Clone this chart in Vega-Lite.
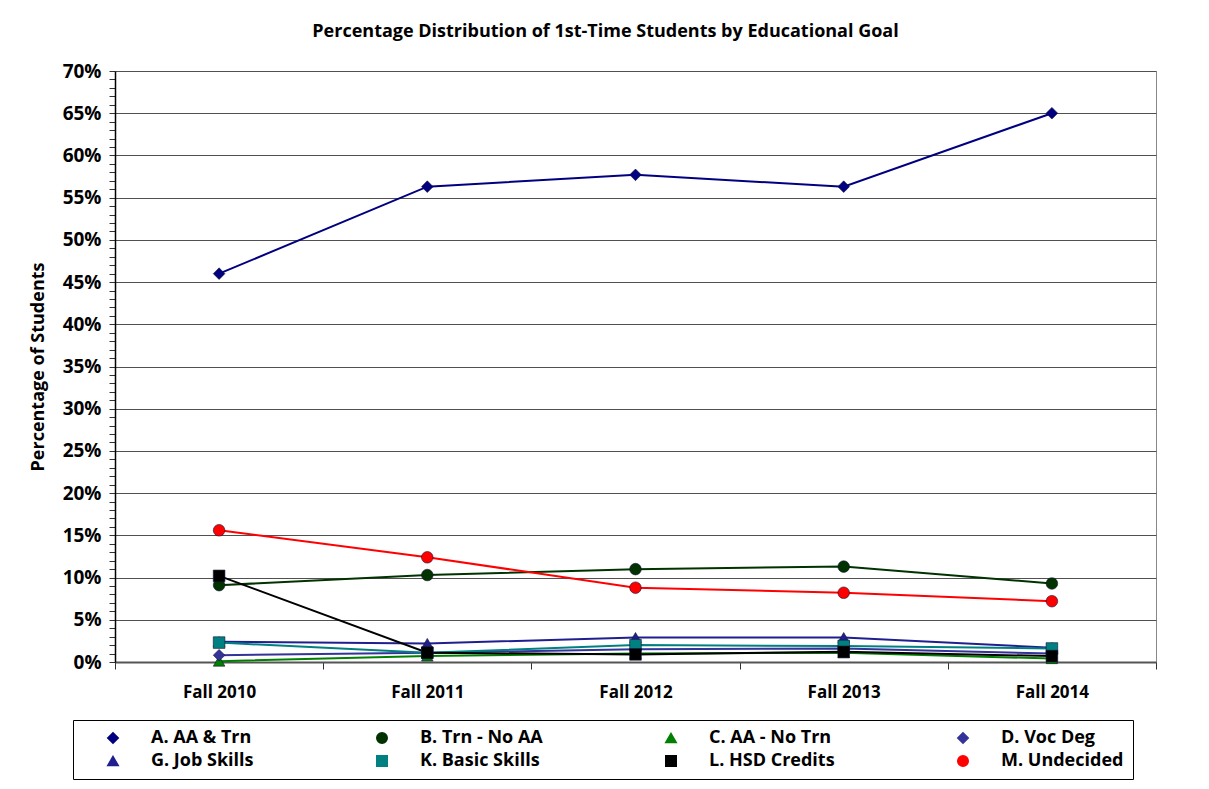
{
  "$schema": "https://vega.github.io/schema/vega-lite/v6.json",
  "autosize": {"type": "none"},
  "width": 1041,
  "height": 591,
  "padding": {"left": 115, "top": 71, "right": 53, "bottom": 127},
  "background": "white",
  "title": {
    "text": "Percentage Distribution of 1st-Time Students by Educational Goal",
    "font": "Open Sans",
    "fontSize": 18,
    "fontWeight": "bold",
    "color": "black",
    "anchor": "middle",
    "dx": -30,
    "offset": 21
  },
  "config": {
    "view": {"stroke": "#888888", "strokeWidth": 1},
    "font": "Open Sans"
  },
  "data": {
    "values": [
      {"year": "Fall 2010", "goal": "A. AA & Trn", "pct": 46.0},
      {"year": "Fall 2011", "goal": "A. AA & Trn", "pct": 56.3},
      {"year": "Fall 2012", "goal": "A. AA & Trn", "pct": 57.7},
      {"year": "Fall 2013", "goal": "A. AA & Trn", "pct": 56.3},
      {"year": "Fall 2014", "goal": "A. AA & Trn", "pct": 65.0},
      {"year": "Fall 2010", "goal": "B. Trn - No AA", "pct": 9.1},
      {"year": "Fall 2011", "goal": "B. Trn - No AA", "pct": 10.3},
      {"year": "Fall 2012", "goal": "B. Trn - No AA", "pct": 11.0},
      {"year": "Fall 2013", "goal": "B. Trn - No AA", "pct": 11.3},
      {"year": "Fall 2014", "goal": "B. Trn - No AA", "pct": 9.3},
      {"year": "Fall 2010", "goal": "C. AA - No Trn", "pct": 0.1},
      {"year": "Fall 2011", "goal": "C. AA - No Trn", "pct": 0.7},
      {"year": "Fall 2012", "goal": "C. AA - No Trn", "pct": 1.0},
      {"year": "Fall 2013", "goal": "C. AA - No Trn", "pct": 1.1},
      {"year": "Fall 2014", "goal": "C. AA - No Trn", "pct": 0.4},
      {"year": "Fall 2010", "goal": "D. Voc Deg", "pct": 0.8},
      {"year": "Fall 2011", "goal": "D. Voc Deg", "pct": 1.1},
      {"year": "Fall 2012", "goal": "D. Voc Deg", "pct": 1.5},
      {"year": "Fall 2013", "goal": "D. Voc Deg", "pct": 1.6},
      {"year": "Fall 2014", "goal": "D. Voc Deg", "pct": 1.0},
      {"year": "Fall 2010", "goal": "G. Job Skills", "pct": 2.4},
      {"year": "Fall 2011", "goal": "G. Job Skills", "pct": 2.2},
      {"year": "Fall 2012", "goal": "G. Job Skills", "pct": 2.9},
      {"year": "Fall 2013", "goal": "G. Job Skills", "pct": 2.9},
      {"year": "Fall 2014", "goal": "G. Job Skills", "pct": 1.7},
      {"year": "Fall 2010", "goal": "K. Basic Skills", "pct": 2.3},
      {"year": "Fall 2011", "goal": "K. Basic Skills", "pct": 1.1},
      {"year": "Fall 2012", "goal": "K. Basic Skills", "pct": 2.0},
      {"year": "Fall 2013", "goal": "K. Basic Skills", "pct": 1.9},
      {"year": "Fall 2014", "goal": "K. Basic Skills", "pct": 1.6},
      {"year": "Fall 2010", "goal": "L. HSD Credits", "pct": 10.2},
      {"year": "Fall 2011", "goal": "L. HSD Credits", "pct": 1.1},
      {"year": "Fall 2012", "goal": "L. HSD Credits", "pct": 0.9},
      {"year": "Fall 2013", "goal": "L. HSD Credits", "pct": 1.2},
      {"year": "Fall 2014", "goal": "L. HSD Credits", "pct": 0.7},
      {"year": "Fall 2010", "goal": "M. Undecided", "pct": 15.6},
      {"year": "Fall 2011", "goal": "M. Undecided", "pct": 12.4},
      {"year": "Fall 2012", "goal": "M. Undecided", "pct": 8.8},
      {"year": "Fall 2013", "goal": "M. Undecided", "pct": 8.2},
      {"year": "Fall 2014", "goal": "M. Undecided", "pct": 7.2}
    ]
  },
  "encoding": {
    "x": {
      "field": "year",
      "type": "ordinal",
      "bandPosition": 0.5,
      "scale": {"type": "band", "paddingInner": 0, "paddingOuter": 0},
      "axis": {
        "title": null,
        "labelAngle": 0,
        "labelFont": "Open Sans",
        "labelFontSize": 17,
        "labelFontWeight": "bold",
        "labelColor": "black",
        "labelPadding": 15,
        "tickBand": "extent",
        "tickSize": 7,
        "tickColor": "#333333",
        "domainColor": "#555555",
        "domainWidth": 2,
        "grid": false
      }
    },
    "y": {
      "field": "pct",
      "type": "quantitative",
      "scale": {"domain": [0, 70], "nice": false, "zero": true},
      "axis": {
        "title": "Percentage of Students",
        "titleFont": "Open Sans",
        "titleFontSize": 18,
        "titleFontWeight": "bold",
        "titleColor": "black",
        "titlePadding": 15,
        "values": [0,1,2,3,4,5,6,7,8,9,10,11,12,13,14,15,16,17,18,19,20,21,22,23,24,25,26,27,28,29,30,31,32,33,34,35,36,37,38,39,40,41,42,43,44,45,46,47,48,49,50,51,52,53,54,55,56,57,58,59,60,61,62,63,64,65,66,67,68,69,70],
        "labelExpr": "datum.value % 5 === 0 ? datum.value + '%' : ''",
        "labelFont": "Open Sans",
        "labelFontSize": 19,
        "labelFontWeight": "bold",
        "labelColor": "black",
        "labelPadding": 8,
        "tickSize": 6,
        "tickColor": "#333333",
        "domainColor": "black",
        "domainWidth": 1.5,
        "grid": true,
        "gridColor": "#505050",
        "gridWidth": 1.2,
        "gridOpacity": {"condition": {"test": "datum.value % 5 === 0", "value": 1}, "value": 0}
      }
    },
    "color": {
      "field": "goal",
      "type": "nominal",
      "scale": {
        "domain": ["A. AA & Trn", "B. Trn - No AA", "C. AA - No Trn", "D. Voc Deg", "G. Job Skills", "K. Basic Skills", "L. HSD Credits", "M. Undecided"],
        "range": ["#000080", "#003300", "#008000", "#333399", "#1f1f8f", "#008080", "#000000", "#ff0000"]
      },
      "legend": {
        "title": null,
        "orient": "none",
        "legendX": -42,
        "legendY": 649,
        "columns": 4,
        "direction": "horizontal",
        "gridAlign": "each",
        "columnPadding": 97,
        "rowPadding": 5,
        "padding": 9,
        "strokeColor": "black",
        "fillColor": "white",
        "labelFont": "Open Sans",
        "labelFontSize": 18,
        "labelFontWeight": "bold",
        "labelColor": "black",
        "labelOffset": 29,
        "symbolSize": 110,
        "symbolOffset": 22
      }
    }
  },
  "layer": [
    {
      "mark": {"type": "line", "strokeWidth": 2}
    },
    {
      "mark": {"type": "point", "filled": true, "opacity": 1, "size": 135, "stroke": "#111133", "strokeWidth": 0.6},
      "encoding": {
        "shape": {
          "field": "goal",
          "type": "nominal",
          "scale": {
            "domain": ["A. AA & Trn", "B. Trn - No AA", "C. AA - No Trn", "D. Voc Deg", "G. Job Skills", "K. Basic Skills", "L. HSD Credits", "M. Undecided"],
            "range": ["diamond", "circle", "triangle-up", "diamond", "triangle-up", "square", "square", "circle"]
          }
        }
      }
    }
  ]
}
